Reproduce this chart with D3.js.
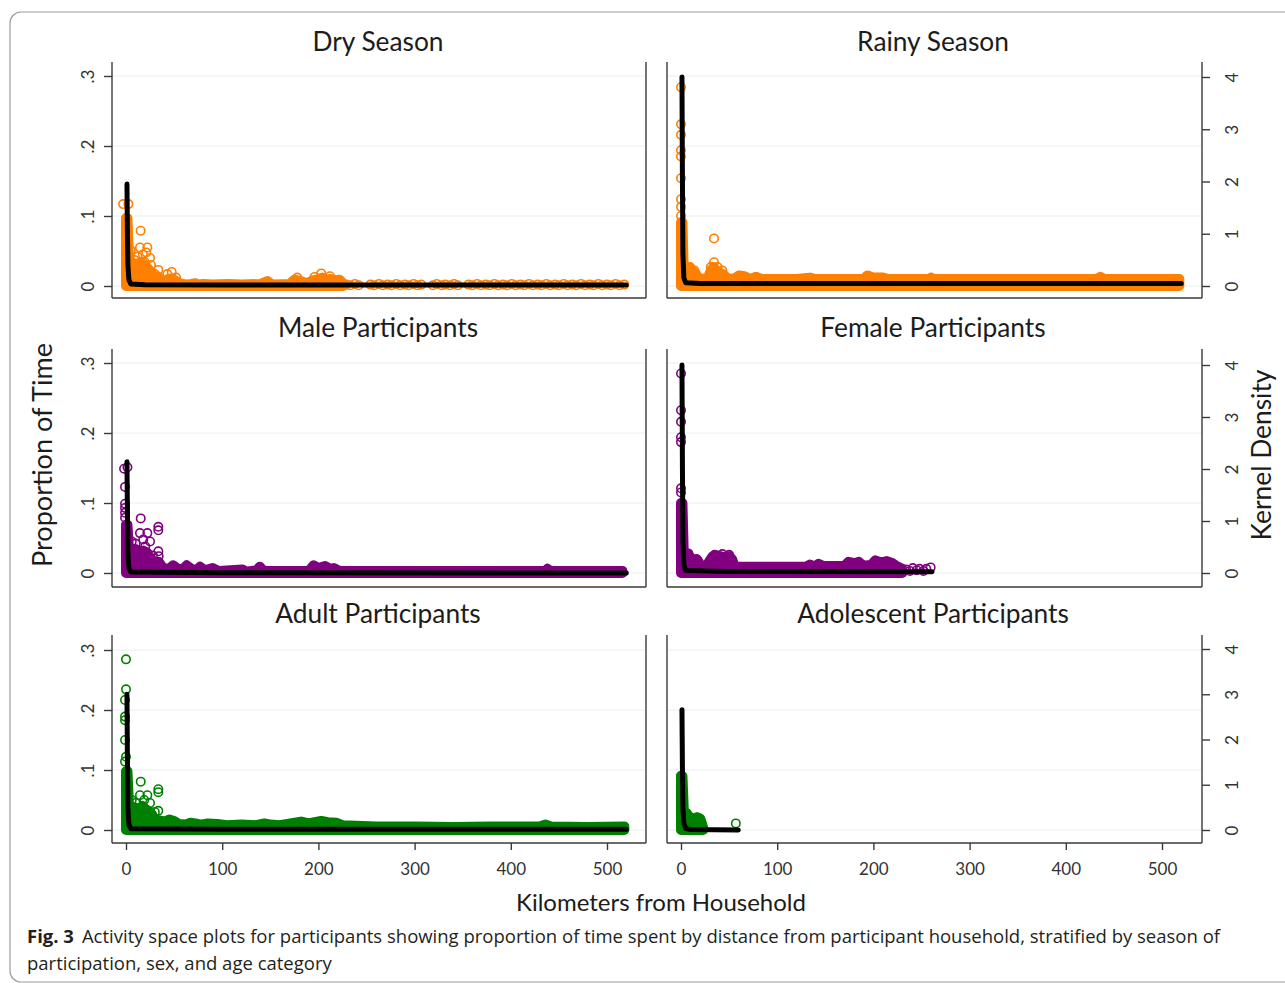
<!DOCTYPE html>
<html>
<head>
<meta charset="utf-8">
<script src="https://cdn.jsdelivr.net/npm/d3@7"></script>
<style>
  body { margin: 0; background: #ffffff; }
  svg { display: block; }
</style>
</head>
<body>
<svg id="fig" width="1285" height="983"></svg>
<script>
// ---------------- data ----------------
const xTicks = [0, 100, 200, 300, 400, 500];
const pTicks = [0, 0.1, 0.2, 0.3];
const pTickLabels = ["0", ".1", ".2", ".3"];
const dTicks = [0, 1, 2, 3, 4];

const panelTitles = ["Dry Season", "Rainy Season", "Male Participants",
  "Female Participants", "Adult Participants", "Adolescent Participants"];
const seriesColors = ["#ff7f00", "#ff7f00", "#800080", "#800080", "#008000", "#008000"];

// Dense, overlapping point clouds: [km from household, upper proportion of time]
const dryCloud = [[0, 0.097], [1.5, 0.097], [3, 0.042], [6, 0.03], [9, 0.032], [12, 0.028],
  [15, 0.034], [18, 0.03], [21, 0.028], [24, 0.022], [27, 0.016], [30, 0.01], [33, 0.014],
  [36, 0.009], [40, 0.007], [44, 0.01], [48, 0.011], [52, 0.007], [56, 0.004], [62, 0.002],
  [68, 0.003], [72, 0.004], [76, 0.002], [80, 0.003], [90, 0.002], [106, 0.003], [120, 0.002],
  [140, 0.003], [147, 0.007], [152, 0.002], [170, 0.003], [175, 0.009], [182, 0.007],
  [188, 0.004], [194, 0.008], [200, 0.01], [204, 0.012], [208, 0.009], [213, 0.01],
  [218, 0.008], [222, 0.009], [226, 0.003]];
const rainyCloud = [[0, 0.091], [1.5, 0.091], [3, 0.015], [6, 0.018], [9, 0.026], [12, 0.021],
  [15, 0.018], [18, 0.012], [22, 0.01], [28, 0.012], [31, 0.022], [34, 0.027], [37, 0.022],
  [40, 0.019], [44, 0.017], [48, 0.011], [55, 0.01], [60, 0.015], [66, 0.014], [72, 0.01],
  [78, 0.013], [84, 0.01], [120, 0.01], [134, 0.012], [140, 0.01], [190, 0.01], [194, 0.015],
  [200, 0.012], [210, 0.012], [216, 0.01], [258, 0.01], [260, 0.012], [262, 0.01],
  [432, 0.01], [436, 0.013], [440, 0.01], [518, 0.01]];
const maleCloud = [[0, 0.069], [1.5, 0.069], [3, 0.035], [6, 0.03], [10, 0.034], [14, 0.03],
  [18, 0.032], [22, 0.029], [26, 0.02], [30, 0.014], [34, 0.016], [38, 0.008], [44, 0.005],
  [49, 0.011], [54, 0.006], [59, 0.005], [63, 0.011], [68, 0.006], [73, 0.004], [77, 0.009],
  [82, 0.004], [90, 0.007], [96, 0.003], [121, 0.005], [125, 0.002], [136, 0.004],
  [139, 0.009], [143, 0.003], [190, 0.003], [195, 0.011], [200, 0.007], [207, 0.01],
  [212, 0.006], [216, 0.007], [222, 0.003], [436, 0.003], [438, 0.006], [441, 0.003],
  [516, 0.003]];
const femaleCloud = [[0, 0.1], [1.5, 0.1], [3, 0.02], [5, 0.026], [8, 0.026], [11, 0.02],
  [14, 0.016], [17, 0.019], [20, 0.012], [26, 0.009], [30, 0.018], [33, 0.024], [38, 0.025],
  [44, 0.023], [50, 0.024], [53, 0.02], [56, 0.009], [130, 0.009], [134, 0.012], [139, 0.009],
  [143, 0.013], [148, 0.01], [170, 0.01], [174, 0.016], [180, 0.014], [185, 0.016],
  [189, 0.01], [198, 0.012], [202, 0.018], [208, 0.015], [214, 0.017], [220, 0.014],
  [224, 0.01], [230, 0.006]];
const adultCloud = [[0, 0.098], [1.5, 0.098], [3, 0.045], [6, 0.035], [9, 0.038], [13, 0.035],
  [17, 0.04], [21, 0.034], [25, 0.03], [28, 0.022], [31, 0.018], [35, 0.016], [40, 0.014],
  [45, 0.0175], [50, 0.015], [55, 0.01], [62, 0.009], [67, 0.012], [72, 0.011], [78, 0.009],
  [85, 0.011], [95, 0.01], [105, 0.008], [120, 0.009], [135, 0.008], [144, 0.011],
  [150, 0.009], [160, 0.008], [174, 0.012], [182, 0.014], [190, 0.011], [196, 0.013],
  [203, 0.015], [210, 0.013], [219, 0.012], [225, 0.008], [260, 0.006], [300, 0.006],
  [340, 0.005], [380, 0.006], [430, 0.006], [436, 0.009], [442, 0.006], [480, 0.005],
  [518, 0.006]];
const adolCloud = [[0, 0.09], [1.5, 0.09], [3, 0.03], [6, 0.028], [8, 0.023], [11, 0.02],
  [14, 0.018], [17, 0.021], [20, 0.019], [21.5, 0.012], [23, 0.004]];

// Individually visible observations: [km from household, proportion of time]
const dryPoints = [[-3, 0.117], [2.5, 0.117], [5, 0.051], [15.2, 0.079], [14.5, 0.055],
  [22.2, 0.055], [21, 0.048], [17.5, 0.045], [12, 0.042], [25, 0.04], [9, 0.037], [19, 0.035],
  [26, 0.03], [13, 0.03], [23, 0.025], [33.6, 0.023], [30, 0.017], [47.5, 0.02], [43, 0.017],
  [52, 0.012], [203, 0.018], [196, 0.013], [178, 0.012], [212, 0.014],
  [229, 0.002], [233, 0.001], [238, 0.003], [242, 0.001], [254, 0.002], [258, 0.001],
  [263, 0.003], [267, 0.001], [272, 0.002], [276, 0.001], [281, 0.003], [285, 0.001],
  [290, 0.002], [294, 0.001], [299, 0.003], [303, 0.001], [307, 0.002], [319, 0.001],
  [323, 0.003], [328, 0.001], [332, 0.002], [337, 0.001], [341, 0.003], [345, 0.001],
  [356, 0.002], [360, 0.001], [365, 0.003], [369, 0.001], [374, 0.002], [378, 0.001],
  [383, 0.003], [387, 0.001], [392, 0.002], [396, 0.001], [401, 0.003], [405, 0.001],
  [410, 0.002], [414, 0.001], [419, 0.003], [423, 0.001], [428, 0.002], [432, 0.001],
  [437, 0.003], [441, 0.001], [446, 0.002], [450, 0.001], [455, 0.003], [459, 0.001],
  [464, 0.002], [468, 0.001], [473, 0.003], [477, 0.001], [482, 0.002], [486, 0.001],
  [491, 0.003], [495, 0.001], [500, 0.002], [504, 0.001], [509, 0.003], [513, 0.001],
  [518, 0.002]];
const rainyPoints = [[0, 0.284], [0, 0.231], [0, 0.216], [0, 0.194], [0, 0.185], [0, 0.154],
  [0, 0.124], [0, 0.113], [0, 0.1], [34.3, 0.068], [34.3, 0.034], [31, 0.027], [38, 0.027],
  [43, 0.022], [9.4, 0.027], [14, 0.022], [5, 0.019], [61, 0.014], [78, 0.013], [193, 0.014],
  [4, 0.002], [8, 0.004]];
const malePoints = [[-2, 0.149], [1.5, 0.151], [-1, 0.123], [-1, 0.099], [-1, 0.093],
  [-1, 0.086], [-1, 0.079], [15.3, 0.078], [33.6, 0.066], [33.6, 0.061], [14.5, 0.057],
  [22.2, 0.057], [18, 0.048], [25, 0.045], [10, 0.042], [6, 0.045], [20, 0.038], [33.6, 0.031],
  [34, 0.024], [28, 0.025], [12, 0.033]];
const femalePoints = [[0, 0.285], [0, 0.2325], [0, 0.216], [0, 0.194], [0, 0.187], [0, 0.121],
  [0, 0.115], [7.6, 0.028], [16, 0.02], [35, 0.026], [43, 0.027], [50, 0.026],
  [234, 0.005], [238, 0.003], [241, 0.007], [245, 0.004], [248, 0.006], [252, 0.003],
  [255, 0.006], [259.5, 0.008]];
const adultPoints = [[0, 0.2844], [0, 0.2344], [-1, 0.2167], [-1, 0.189], [-1, 0.183],
  [-1, 0.15], [0, 0.122], [-1, 0.114], [15.3, 0.0806], [33.6, 0.068], [33.6, 0.063],
  [14.5, 0.058], [22.2, 0.058], [19, 0.05], [25, 0.045], [10, 0.045], [6, 0.05],
  [33.6, 0.032], [27, 0.026], [30, 0.03]];
const adolPoints = [[0, 0.09], [0, 0.085], [0, 0.078], [7.6, 0.023], [16.3, 0.021],
  [20, 0.018], [4, 0.026], [57, 0.011]];

// Kernel density of distance: [km from household, density]
const dryKernel = [[1, 1.95], [1.5, 1.0], [2, 0.4], [3, 0.12], [5, 0.04], [20, 0.025],
  [100, 0.02], [300, 0.02], [520, 0.02]];
const rainyKernel = [[1, 4.0], [1.5, 2.0], [2, 0.6], [3, 0.15], [5, 0.06], [20, 0.05],
  [100, 0.05], [300, 0.05], [520, 0.05]];
const maleKernel = [[1, 2.14], [1.5, 1.1], [2, 0.4], [3, 0.1], [5, 0.02], [100, 0.005],
  [520, 0.0]];
const femaleKernel = [[1, 4.0], [1.5, 2.0], [2, 0.6], [3, 0.15], [5, 0.05], [50, 0.03],
  [261, 0.025]];
const adultKernel = [[1, 3.0], [1.5, 1.5], [2, 0.5], [3, 0.12], [5, 0.03], [100, 0.015],
  [520, 0.015]];
const adolKernel = [[1, 2.66], [1.5, 1.3], [2, 0.5], [3, 0.15], [5, 0.03], [10, 0.01],
  [59.6, 0.0]];

const clouds = [dryCloud, rainyCloud, maleCloud, femaleCloud, adultCloud, adolCloud];
const pointSets = [dryPoints, rainyPoints, malePoints, femalePoints, adultPoints, adolPoints];
const kernels = [dryKernel, rainyKernel, maleKernel, femaleKernel, adultKernel, adolKernel];

// ---------------- layout ----------------
const svg = d3.select("#fig");
const FONT = "Lato, 'Open Sans', 'DejaVu Sans', sans-serif";
const AXIS = "#3a3a3a";
const R = 4.2, RSTROKE = 1.6;

const colLayout = [
  { left: 112, right: 646, x0: 126, x500: 607, titleX: 378 },
  { left: 667, right: 1202, x0: 681, x500: 1162, titleX: 933 }
];
const rowLayout = [
  { top: 62, bottom: 298, y0: 286, yP3: 76, yD4: 77, titleY: 51 },
  { top: 349, bottom: 587, y0: 573, yP3: 363, yD4: 365, titleY: 337 },
  { top: 635, bottom: 843, y0: 830, yP3: 650, yD4: 649, titleY: 623 }
];

// outer figure frame
svg.append("rect")
  .attr("x", 10).attr("y", 12).attr("width", 1300).attr("height", 970).attr("rx", 11)
  .attr("fill", "none").attr("stroke", "#9c9c9c").attr("stroke-width", 1.2);

const titleNodes = [];

panelTitles.forEach((title, i) => {
  const c = colLayout[i % 2], r = rowLayout[Math.floor(i / 2)];
  const color = seriesColors[i];
  const g = svg.append("g");

  const x = d3.scaleLinear().domain([0, 500]).range([c.x0, c.x500]);
  const yP = d3.scaleLinear().domain([0, 0.3]).range([r.y0, r.yP3]);
  const yD = d3.scaleLinear().domain([0, 4]).range([r.y0, r.yD4]);

  // grid
  g.selectAll("line.grid").data(pTicks).join("line")
    .attr("class", "grid")
    .attr("x1", c.left).attr("x2", c.right)
    .attr("y1", d => yP(d)).attr("y2", d => yP(d))
    .attr("stroke", "#e4eeee").attr("stroke-width", 1);

  // dense point cloud (union of overlapping markers)
  g.append("path").datum(clouds[i])
    .attr("d", d3.area().x(d => x(d[0])).y0(yP(0)).y1(d => yP(d[1])))
    .attr("fill", color).attr("stroke", color)
    .attr("stroke-width", 2 * R + RSTROKE).attr("stroke-linejoin", "round");

  // individual hollow markers
  g.selectAll("circle").data(pointSets[i]).join("circle")
    .attr("cx", d => x(d[0])).attr("cy", d => yP(d[1])).attr("r", R)
    .attr("fill", "none").attr("stroke", color).attr("stroke-width", RSTROKE);

  // kernel density line
  g.append("path").datum(kernels[i])
    .attr("d", d3.line().x(d => x(d[0])).y(d => yD(d[1])))
    .attr("fill", "none").attr("stroke", "#000").attr("stroke-width", 5)
    .attr("stroke-linejoin", "round").attr("stroke-linecap", "round");

  // plot region frame
  const frame = [[c.left, r.top, c.left, r.bottom], [c.right, r.top, c.right, r.bottom],
                 [c.left, r.bottom, c.right, r.bottom]];
  g.selectAll("line.frame").data(frame).join("line")
    .attr("class", "frame")
    .attr("x1", d => d[0]).attr("y1", d => d[1]).attr("x2", d => d[2]).attr("y2", d => d[3])
    .attr("stroke", AXIS).attr("stroke-width", 1.4);

  if (i % 2 === 0) {
    const ax = g.append("g").attr("transform", `translate(${c.left},0)`)
      .call(d3.axisLeft(yP).tickValues(pTicks).tickFormat((d, k) => pTickLabels[k])
        .tickSize(8).tickSizeOuter(0));
    ax.select(".domain").remove();
    ax.selectAll(".tick line").attr("stroke", AXIS).attr("stroke-width", 1.4);
    ax.selectAll(".tick text")
      .attr("x", 0).attr("y", -18.5).attr("dy", null)
      .attr("transform", "rotate(-90)").attr("text-anchor", "middle")
      .attr("font-family", FONT).attr("font-size", 17).attr("fill", "#333");
  } else {
    const ax = g.append("g").attr("transform", `translate(${c.right},0)`)
      .call(d3.axisRight(yD).tickValues(dTicks).tickFormat(d3.format("d"))
        .tickSize(8).tickSizeOuter(0));
    ax.select(".domain").remove();
    ax.selectAll(".tick line").attr("stroke", AXIS).attr("stroke-width", 1.4);
    ax.selectAll(".tick text")
      .attr("x", 0).attr("y", 36).attr("dy", null)
      .attr("transform", "rotate(-90)").attr("text-anchor", "middle")
      .attr("font-family", FONT).attr("font-size", 17).attr("fill", "#333");
  }

  if (Math.floor(i / 2) === 2) {
    const ax = g.append("g").attr("transform", `translate(0,${r.bottom})`)
      .call(d3.axisBottom(x).tickValues(xTicks).tickSize(7).tickSizeOuter(0));
    ax.select(".domain").remove();
    ax.selectAll(".tick line").attr("stroke", AXIS).attr("stroke-width", 1.4);
    ax.selectAll(".tick text")
      .attr("y", 32).attr("dy", null)
      .attr("font-family", FONT).attr("font-size", 17).attr("fill", "#333");
  }

  const t = svg.append("text")
    .attr("x", c.titleX).attr("y", r.titleY).attr("text-anchor", "middle")
    .attr("font-family", FONT).attr("font-size", 24).attr("fill", "#1c1c1c")
    .text(title);
  titleNodes.push(t);
});

// panel titles share one size, fitted to their typical printed width
const titleWidths = [129, 152, 201, 227, 206, 273];
const ratios = titleNodes.map((t, k) => titleWidths[k] / t.node().getComputedTextLength());
const titleSize = 24 * d3.mean(ratios);
titleNodes.forEach(t => t.attr("font-size", titleSize));

function fitWidth(sel, target) {
  const fs = +sel.attr("font-size");
  sel.attr("font-size", fs * target / sel.node().getComputedTextLength());
  return sel;
}

// axis titles
fitWidth(svg.append("text")
  .attr("transform", "translate(52,455) rotate(-90)").attr("text-anchor", "middle")
  .attr("font-family", FONT).attr("font-size", 24).attr("fill", "#1c1c1c")
  .text("Proportion of Time"), 224);
fitWidth(svg.append("text")
  .attr("transform", "translate(1271,455) rotate(-90)").attr("text-anchor", "middle")
  .attr("font-family", FONT).attr("font-size", 24).attr("fill", "#1c1c1c")
  .text("Kernel Density"), 171);
fitWidth(svg.append("text")
  .attr("x", 661).attr("y", 911).attr("text-anchor", "middle")
  .attr("font-family", FONT).attr("font-size", 24).attr("fill", "#1c1c1c")
  .text("Kilometers from Household"), 290);

// figure caption
const CAP = "'Open Sans', 'Noto Sans', sans-serif";
const cap1 = svg.append("text").attr("x", 27).attr("y", 943)
  .attr("font-family", CAP).attr("font-size", 18).attr("fill", "#231f20");
cap1.append("tspan").attr("font-weight", "bold").text("Fig. 3");
cap1.append("tspan").attr("dx", 8)
  .text("Activity space plots for participants showing proportion of time spent by distance from participant household, stratified by season of");
fitWidth(cap1, 1185);
svg.append("text").attr("x", 27).attr("y", 970)
  .attr("font-family", CAP).attr("font-size", cap1.attr("font-size")).attr("fill", "#231f20")
  .text("participation, sex, and age category");
</script>
</body>
</html>
